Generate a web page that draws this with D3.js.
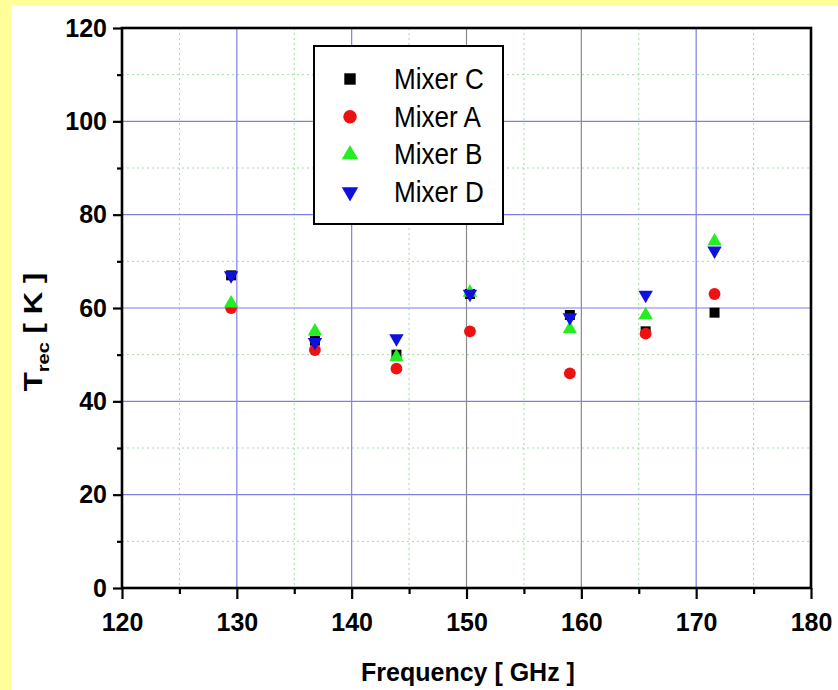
<!DOCTYPE html>
<html>
<head>
<meta charset="utf-8">
<script src="https://cdn.jsdelivr.net/npm/d3@7"></script>
<style>
  html, body { margin: 0; padding: 0; background: #ffff99; }
  svg { display: block; }
  text { font-family: "Liberation Sans", Arial, sans-serif; }
</style>
</head>
<body>
<svg id="chart" width="838" height="690"></svg>
<script>
// Receiver noise temperature vs. LO frequency for four mixers
const frequency = [129.5, 136.8, 143.9, 150.3, 159.0, 165.6, 171.6];
const mixerC = [67, 53, 50, 63, 58.5, 55, 59];
const mixerA = [60, 51, 47, 55, 46, 54.5, 63];
const mixerB = [61, 55, 49.5, 63.3, 55.5, 58.5, 74.3];
const mixerD = [67, 52.7, 53.5, 63, 58, 62.8, 72.3];

const seriesNames = ["Mixer C", "Mixer A", "Mixer B", "Mixer D"];
const xMajorTicks = [120, 130, 140, 150, 160, 170, 180];
const xMinorTicks = [125, 135, 145, 155, 165, 175];
const yMajorTicks = [0, 20, 40, 60, 80, 100, 120];
const yMinorTicks = [10, 30, 50, 70, 90, 110];

const series = [
  { name: seriesNames[0], values: mixerC, shape: d3.symbolSquare, color: "#000000", size: 100, rot: 0 },
  { name: seriesNames[1], values: mixerA, shape: d3.symbolCircle, color: "#ee1111", size: 110, rot: 0 },
  { name: seriesNames[2], values: mixerB, shape: d3.symbolTriangle, color: "#22ee22", size: 90, rot: 0 },
  { name: seriesNames[3], values: mixerD, shape: d3.symbolTriangle, color: "#1010dd", size: 90, rot: 180 }
];

const svg = d3.select("#chart");
const W = 838, H = 690;

// yellow surround with white panel
svg.append("rect").attr("width", W).attr("height", H).attr("fill", "#ffff99");
svg.append("rect").attr("x", 11).attr("y", 5).attr("width", W - 11).attr("height", H - 5).attr("fill", "#ffffff");

const m = { left: 122, right: 811, top: 28, bottom: 588 };
const x = d3.scaleLinear().domain([120, 180]).range([m.left, m.right]);
const y = d3.scaleLinear().domain([0, 120]).range([m.bottom, m.top]);

const grid = svg.append("g");
// minor grid (dotted green)
grid.selectAll(".vminor").data(xMinorTicks).join("line")
  .attr("x1", d => x(d)).attr("x2", d => x(d)).attr("y1", m.top).attr("y2", m.bottom)
  .attr("stroke", "#9fdc9f").attr("stroke-width", 1).attr("stroke-dasharray", "2,3");
grid.selectAll(".hminor").data(yMinorTicks).join("line")
  .attr("x1", m.left).attr("x2", m.right).attr("y1", d => y(d)).attr("y2", d => y(d))
  .attr("stroke", "#a8d8a8").attr("stroke-width", 1).attr("stroke-dasharray", "2,3");
// major grid
grid.selectAll(".vmajor").data(xMajorTicks.slice(1, -1)).join("line")
  .attr("x1", d => x(d)).attr("x2", d => x(d)).attr("y1", m.top).attr("y2", m.bottom)
  .attr("stroke", d => (d === 150 || d === 160) ? "#8a8a8a" : "#7f7fe6").attr("stroke-width", 1.2);
grid.selectAll(".hmajor").data(yMajorTicks.slice(1, -1)).join("line")
  .attr("x1", m.left).attr("x2", m.right).attr("y1", d => y(d)).attr("y2", d => y(d))
  .attr("stroke", "#7f7fe6").attr("stroke-width", 1.2);

// axes: major ticks with labels, minor ticks without
function styleAxis(g) {
  g.select(".domain").remove();
  g.selectAll(".tick line").attr("stroke", "#000").attr("stroke-width", 2.2);
  g.selectAll(".tick text").attr("fill", "#000").attr("font-size", 25).attr("font-weight", "bold");
}
const xAxis = svg.append("g").attr("transform", `translate(0,${m.bottom})`)
  .call(d3.axisBottom(x).tickValues(xMajorTicks).tickSize(11).tickPadding(14).tickFormat(d3.format("d")));
styleAxis(xAxis);
xAxis.selectAll(".tick text").attr("dy", "0.71em");
const xAxisMinor = svg.append("g").attr("transform", `translate(0,${m.bottom})`)
  .call(d3.axisBottom(x).tickValues(xMinorTicks).tickSize(6).tickFormat(""));
styleAxis(xAxisMinor);

const yAxis = svg.append("g").attr("transform", `translate(${m.left},0)`)
  .call(d3.axisLeft(y).tickValues(yMajorTicks).tickSize(9).tickPadding(6).tickFormat(d3.format("d")));
styleAxis(yAxis);
const yAxisMinor = svg.append("g").attr("transform", `translate(${m.left},0)`)
  .call(d3.axisLeft(y).tickValues(yMinorTicks).tickSize(5).tickFormat(""));
styleAxis(yAxisMinor);

// plot frame
svg.append("rect").attr("x", m.left).attr("y", m.top)
  .attr("width", m.right - m.left).attr("height", m.bottom - m.top)
  .attr("fill", "none").attr("stroke", "#000").attr("stroke-width", 2.6);

// data markers
const pts = svg.append("g");
series.forEach(s => {
  const sym = d3.symbol().type(s.shape).size(s.size);
  pts.selectAll(null).data(s.values).join("path")
    .attr("d", sym)
    .attr("transform", (d, i) => `translate(${x(frequency[i])},${y(d)}) rotate(${s.rot})`)
    .attr("fill", s.color);
});

// legend
const lg = svg.append("g");
lg.append("rect").attr("x", 314).attr("y", 46).attr("width", 189).attr("height", 178)
  .attr("fill", "#fff").attr("stroke", "#000").attr("stroke-width", 2);
series.forEach((s, i) => {
  const cy = 79 + i * 37.7;
  lg.append("path")
    .attr("d", d3.symbol().type(s.shape).size(s.size * 1.3))
    .attr("transform", `translate(350,${cy}) rotate(${s.rot})`)
    .attr("fill", s.color);
  lg.append("text")
    .attr("transform", `translate(394,${cy + 10}) scale(0.9,1)`)
    .attr("font-size", 29).attr("fill", "#000")
    .text(s.name);
});

// axis titles
svg.append("text")
  .attr("x", 468).attr("y", 681)
  .attr("text-anchor", "middle").attr("font-size", 25).attr("font-weight", "bold")
  .text("Frequency [ GHz ]");

const yt = svg.append("text")
  .attr("transform", "translate(42,332) rotate(-90) scale(1.25,1)")
  .attr("text-anchor", "middle").attr("font-size", 25).attr("font-weight", "bold");
yt.append("tspan").text("T");
yt.append("tspan").attr("font-size", 16).attr("dy", 7).text("rec");
yt.append("tspan").attr("dy", -7).text(" [ K ]");
</script>
</body>
</html>
